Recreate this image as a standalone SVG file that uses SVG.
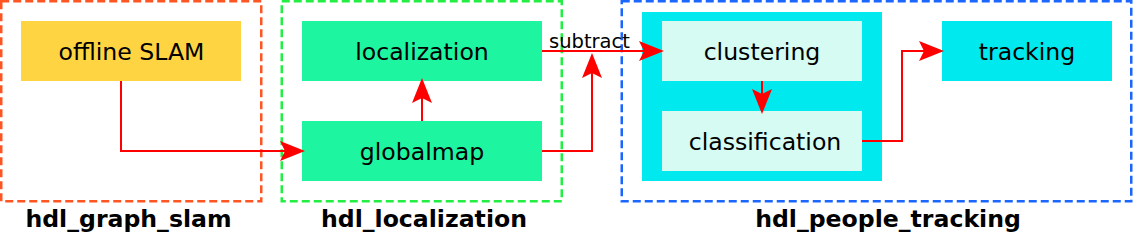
<svg xmlns="http://www.w3.org/2000/svg" width="1133" height="233" viewBox="0 0 1133 233">
<defs>
<style>
.grp{fill:none;stroke-width:2.5;stroke-dasharray:8,4}
.lbl{font-family:"DejaVu Sans",sans-serif;font-size:23.6px;fill:#000;text-anchor:middle}
.title{font-family:"DejaVu Sans",sans-serif;font-size:23.6px;font-weight:bold;fill:#000;text-anchor:middle}
.edge{fill:none;stroke:#ff0000;stroke-width:2;marker-end:url(#arr)}
.sub{font-family:"DejaVu Sans",sans-serif;font-size:19.5px;fill:#000}
</style>
<marker id="arr" markerUnits="userSpaceOnUse" markerWidth="25" markerHeight="20" viewBox="0 0 25 20" refX="22" refY="10" orient="auto">
<path d="M25,10 L0,0 L5,10 L0,20 Z" fill="#ff0000"/>
</marker>
</defs>
<g id="group-graph-slam">
<rect class="grp" x="1.25" y="1.25" width="260" height="200" stroke="#ff5522"/>
<text class="title" x="128.5" y="227">hdl_graph_slam</text>
</g>
<g id="group-localization">
<rect class="grp" x="281.75" y="1.25" width="280" height="200" stroke="#22ee44"/>
<text class="title" x="424" y="227">hdl_localization</text>
</g>
<g id="group-people-tracking">
<rect class="grp" x="621.75" y="1.25" width="509.5" height="200" stroke="#1a66ff"/>
<text class="title" x="888" y="227">hdl_people_tracking</text>
</g>
<g id="people-detector">
<rect x="642" y="12" width="240" height="169" fill="#00e9ef"/>
</g>
<g id="offline-slam">
<rect x="21" y="21" width="220" height="60" fill="#ffd443"/>
<text class="lbl" x="131.5" y="60">offline SLAM</text>
</g>
<g id="localization">
<rect x="302" y="21" width="240" height="60" fill="#1ef5a0"/>
<text class="lbl" x="422" y="60">localization</text>
</g>
<g id="globalmap">
<rect x="302" y="121" width="240" height="60" fill="#1ef5a0"/>
<text class="lbl" x="422" y="160">globalmap</text>
</g>
<g id="clustering">
<rect x="662" y="21" width="200" height="60" fill="#d5fbf3"/>
<text class="lbl" x="762" y="60">clustering</text>
</g>
<g id="classification">
<rect x="662" y="111" width="200" height="60" fill="#d5fbf3"/>
<text class="lbl" x="765" y="150">classification</text>
</g>
<g id="tracking">
<rect x="942" y="21" width="170" height="60" fill="#00e9ef"/>
<text class="lbl" x="1027" y="60">tracking</text>
</g>
<g id="connectors">
<path class="edge" d="M121,81 V151 H302"/>
<path class="edge" d="M422,121 V81"/>
<path class="edge" d="M542,151 H592 V56"/>
<path class="edge" d="M542,51 H661"/>
<path class="edge" d="M762,81 V111"/>
<path class="edge" d="M862,141 H902 V51 H941"/>
<text class="sub" x="549" y="47.5">subtract</text>
</g>
</svg>
